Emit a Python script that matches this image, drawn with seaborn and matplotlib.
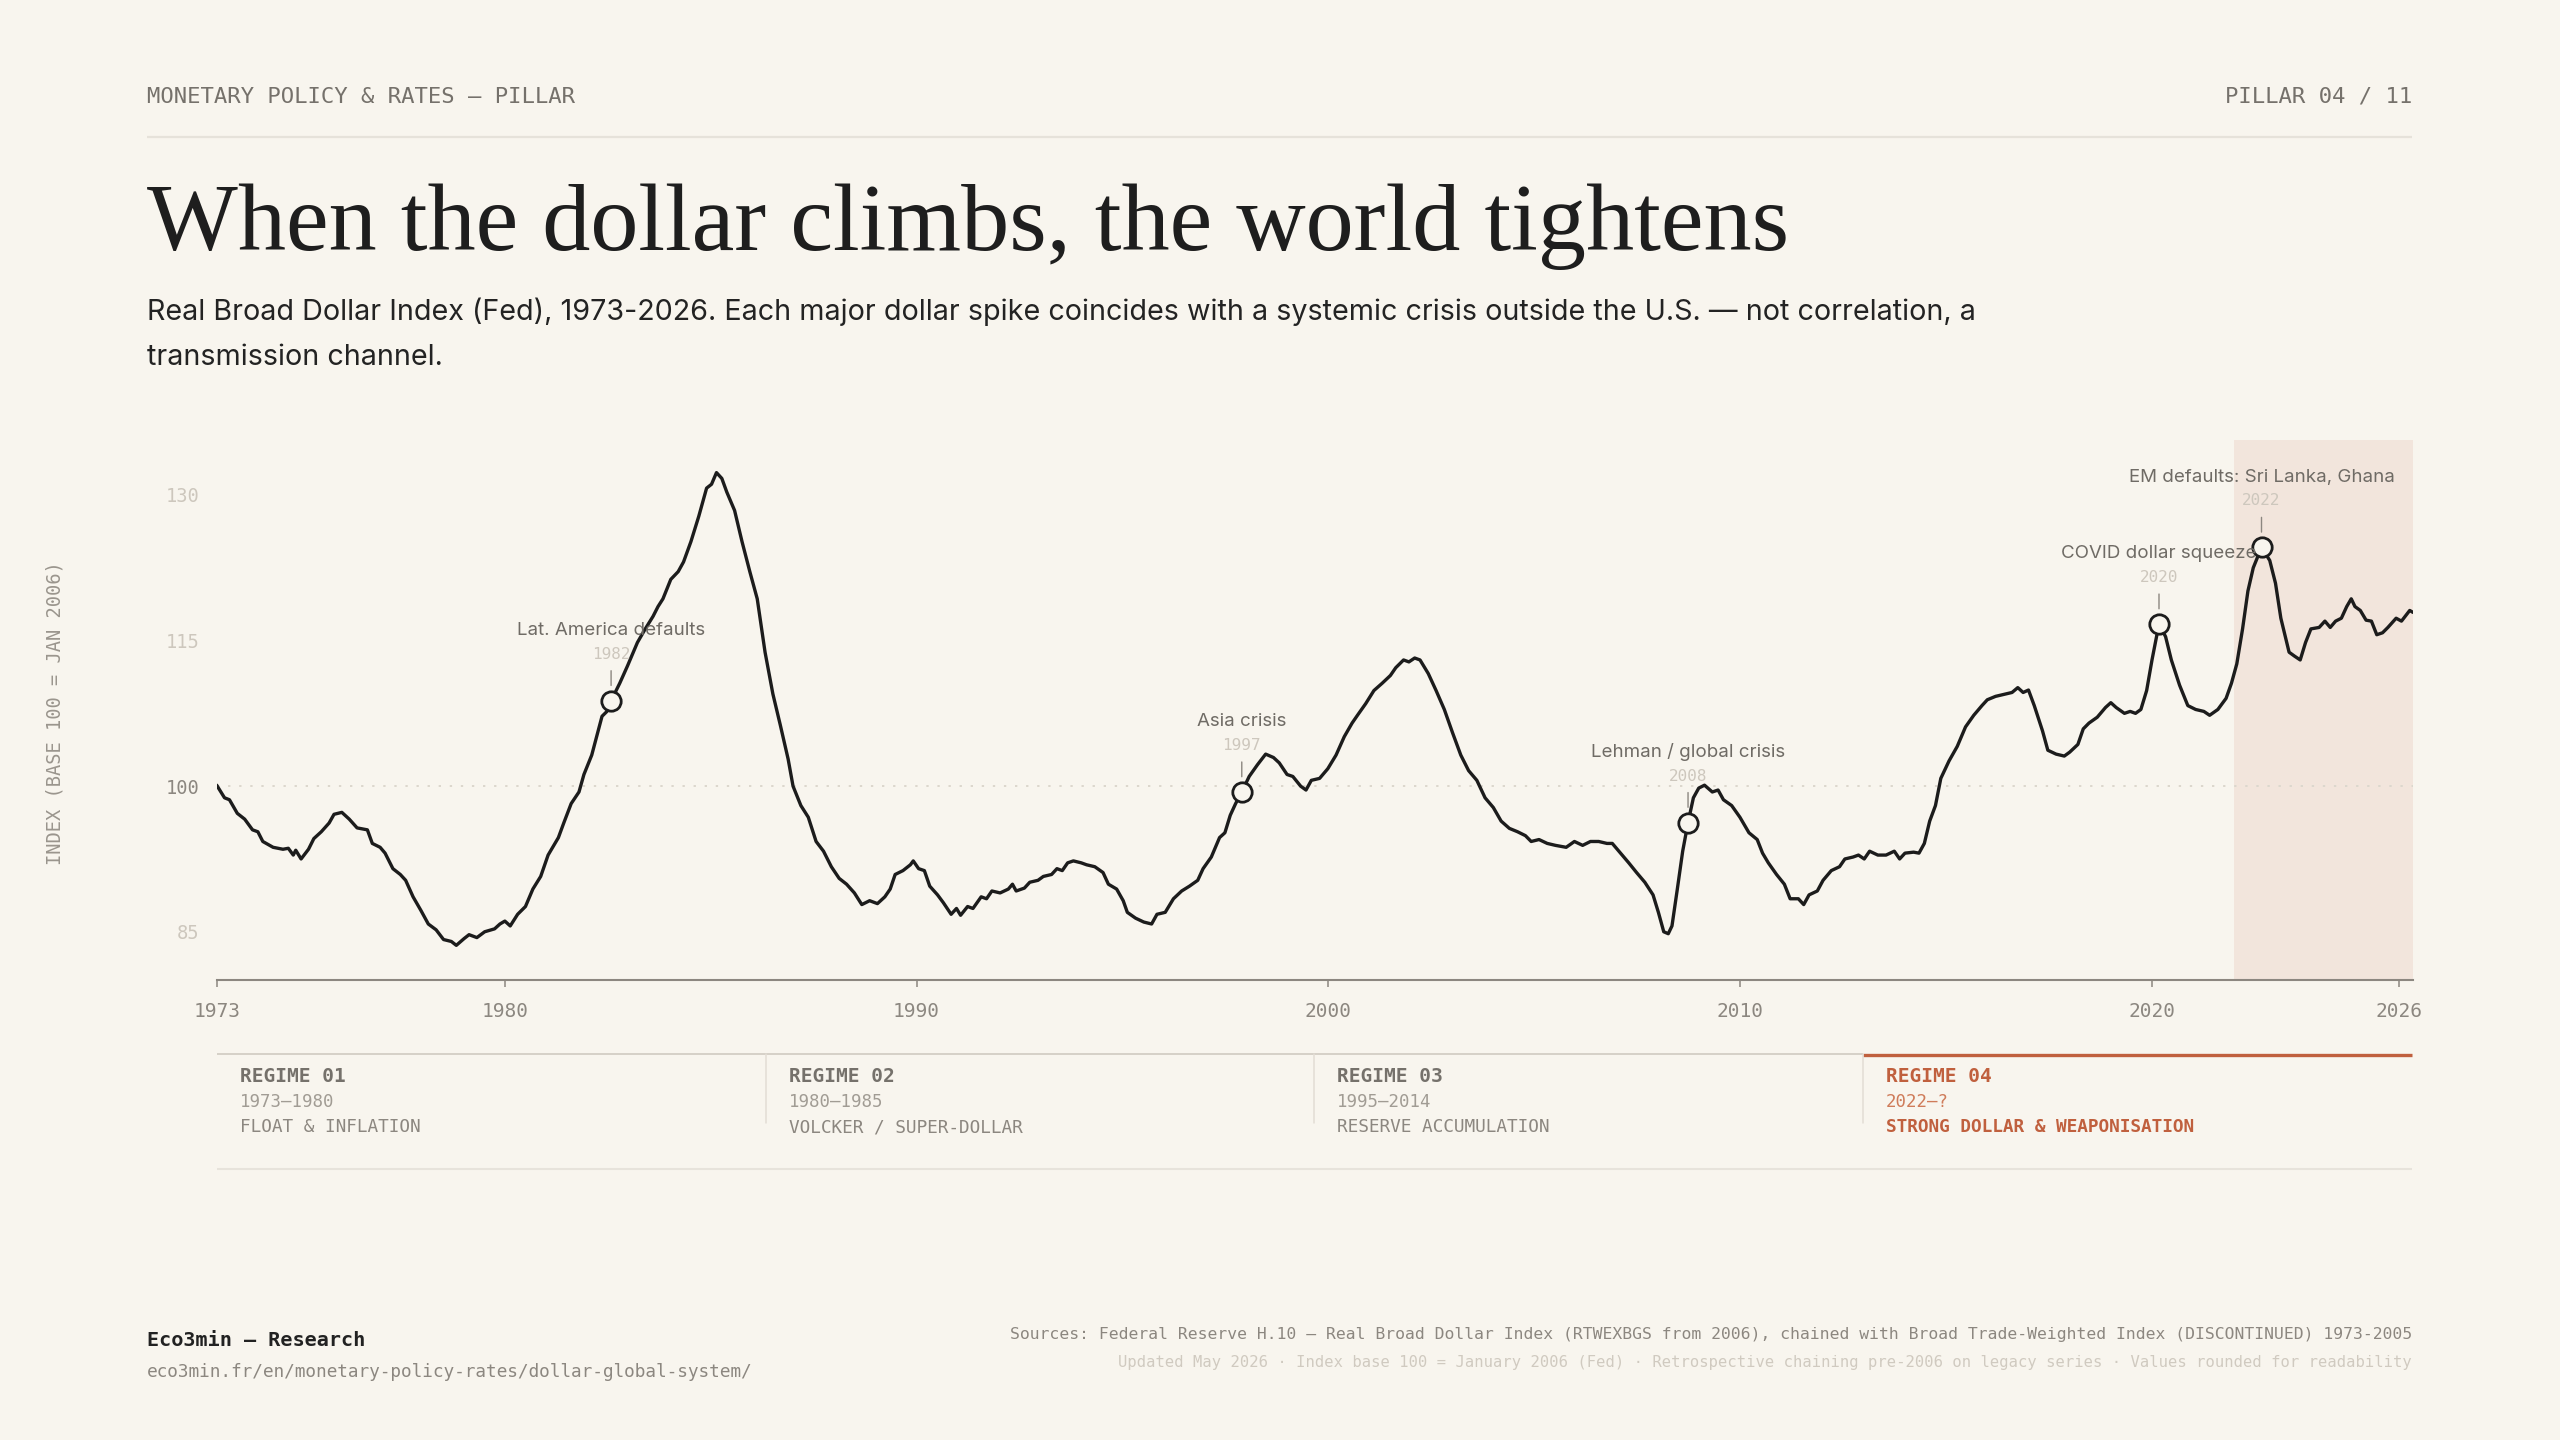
import matplotlib
matplotlib.use("Agg")
import matplotlib.pyplot as plt
import seaborn as sns
import pandas as pd

# ---------------- data ----------------
years = [1973.00, 1973.19, 1973.31, 1973.50, 1973.68, 1973.87, 1974.00, 1974.12, 1974.37, 1974.61,
         1974.74, 1974.86, 1974.92, 1975.05, 1975.23, 1975.36, 1975.54, 1975.73, 1975.85, 1976.04,
         1976.22, 1976.41, 1976.66, 1976.78, 1976.97, 1977.09, 1977.28, 1977.46, 1977.59, 1977.77,
         1977.96, 1978.14, 1978.33, 1978.51, 1978.70, 1978.82, 1979.01, 1979.13, 1979.32, 1979.51,
         1979.75, 1979.88, 1980.00, 1980.13, 1980.31, 1980.50, 1980.68, 1980.87, 1981.05, 1981.30,
         1981.43, 1981.61, 1981.80, 1981.92, 1982.11, 1982.23, 1982.36, 1982.48, 1982.58, 1982.79,
         1982.98, 1983.10, 1983.22, 1983.41, 1983.60, 1983.72, 1983.84, 1984.03, 1984.21, 1984.34,
         1984.52, 1984.71, 1984.90, 1985.02, 1985.14, 1985.27, 1985.39, 1985.58, 1985.76, 1985.95,
         1986.13, 1986.32, 1986.51, 1986.69, 1986.88, 1987.00, 1987.19, 1987.37, 1987.56, 1987.74,
         1987.93, 1988.12, 1988.30, 1988.49, 1988.67, 1988.86, 1989.05, 1989.23, 1989.36, 1989.48,
         1989.67, 1989.85, 1989.92, 1990.05, 1990.19, 1990.32, 1990.51, 1990.65, 1990.84, 1990.97,
         1991.07, 1991.24, 1991.37, 1991.57, 1991.70, 1991.83, 1992.03, 1992.23, 1992.33, 1992.42,
         1992.62, 1992.75, 1992.95, 1993.08, 1993.28, 1993.41, 1993.54, 1993.67, 1993.81, 1994.00,
         1994.13, 1994.33, 1994.53, 1994.66, 1994.86, 1995.02, 1995.12, 1995.32, 1995.52, 1995.71,
         1995.84, 1996.04, 1996.24, 1996.44, 1996.63, 1996.83, 1996.96, 1997.16, 1997.36, 1997.49,
         1997.62, 1997.75, 1997.90, 1998.08, 1998.28, 1998.48, 1998.67, 1998.81, 1999.00, 1999.14,
         1999.33, 1999.46, 1999.59, 1999.79, 1999.99, 2000.19, 2000.39, 2000.58, 2000.71, 2000.91,
         2001.11, 2001.31, 2001.51, 2001.64, 2001.83, 2001.96, 2002.10, 2002.23, 2002.43, 2002.62,
         2002.82, 2003.02, 2003.22, 2003.41, 2003.61, 2003.81, 2004.01, 2004.20, 2004.40, 2004.60,
         2004.79, 2004.93, 2005.12, 2005.32, 2005.52, 2005.78, 2005.98, 2006.18, 2006.37, 2006.57,
         2006.77, 2006.90, 2007.10, 2007.30, 2007.49, 2007.69, 2007.89, 2008.02, 2008.15, 2008.26,
         2008.35, 2008.48, 2008.61, 2008.74, 2008.87, 2009.00, 2009.14, 2009.33, 2009.47, 2009.60,
         2009.80, 2010.00, 2010.22, 2010.42, 2010.55, 2010.69, 2010.89, 2011.08, 2011.22, 2011.42,
         2011.55, 2011.68, 2011.88, 2012.02, 2012.22, 2012.42, 2012.55, 2012.75, 2012.88, 2013.02,
         2013.15, 2013.35, 2013.55, 2013.75, 2013.88, 2014.01, 2014.22, 2014.35, 2014.48, 2014.61,
         2014.75, 2014.88, 2015.08, 2015.28, 2015.48, 2015.68, 2015.88, 2016.01, 2016.21, 2016.41,
         2016.61, 2016.75, 2016.88, 2017.01, 2017.15, 2017.35, 2017.48, 2017.68, 2017.88, 2018.01,
         2018.21, 2018.34, 2018.48, 2018.68, 2018.88, 2019.01, 2019.14, 2019.34, 2019.48, 2019.61,
         2019.74, 2019.88, 2020.01, 2020.18, 2020.34, 2020.48, 2020.68, 2020.88, 2021.07, 2021.27,
         2021.41, 2021.61, 2021.81, 2021.94, 2022.07, 2022.21, 2022.34, 2022.47, 2022.67, 2022.87,
         2023.01, 2023.14, 2023.34, 2023.47, 2023.61, 2023.74, 2023.87, 2024.07, 2024.21, 2024.34,
         2024.47, 2024.61, 2024.74, 2024.85, 2024.94, 2025.07, 2025.21, 2025.34, 2025.47, 2025.61,
         2025.74, 2025.94, 2026.07, 2026.27, 2026.35]

index_values = [100.1, 98.8, 98.6, 97.2, 96.6, 95.5, 95.3, 94.3, 93.7, 93.5,
                93.6, 92.9, 93.4, 92.5, 93.5, 94.6, 95.3, 96.2, 97.1, 97.3,
                96.6, 95.7, 95.5, 94.1, 93.7, 93.1, 91.5, 90.9, 90.3, 88.6,
                87.2, 85.8, 85.2, 84.2, 84.0, 83.6, 84.3, 84.7, 84.4, 85.0,
                85.3, 85.8, 86.1, 85.6, 86.8, 87.6, 89.4, 90.7, 92.9, 94.7,
                96.2, 98.2, 99.4, 101.2, 103.2, 105.1, 107.2, 107.7, 108.8, 110.6,
                112.4, 113.6, 114.8, 116.2, 117.5, 118.5, 119.3, 121.3, 122.1, 123.1,
                125.2, 127.8, 130.7, 131.1, 132.3, 131.7, 130.3, 128.4, 125.2, 122.1,
                119.3, 113.8, 109.5, 106.3, 102.8, 100.0, 98.0, 96.8, 94.3, 93.3,
                91.7, 90.5, 89.9, 89.0, 87.8, 88.2, 87.9, 88.6, 89.4, 90.9,
                91.3, 91.9, 92.3, 91.5, 91.3, 89.7, 88.8, 88.0, 86.8, 87.4,
                86.7, 87.6, 87.4, 88.6, 88.4, 89.2, 89.0, 89.4, 89.9, 89.2,
                89.5, 90.1, 90.3, 90.7, 90.9, 91.5, 91.3, 92.1, 92.3, 92.1,
                91.9, 91.7, 91.1, 89.9, 89.4, 88.2, 87.0, 86.4, 86.0, 85.8,
                86.8, 87.0, 88.4, 89.2, 89.7, 90.3, 91.5, 92.7, 94.7, 95.2,
                97.0, 98.2, 99.4, 101.0, 102.2, 103.3, 102.95, 102.4, 101.2, 101.0,
                100.0, 99.6, 100.6, 100.8, 101.8, 103.2, 105.1, 106.5, 107.3, 108.5,
                109.85, 110.6, 111.4, 112.2, 113.0, 112.8, 113.2, 113.0, 111.6, 109.85,
                107.9, 105.5, 103.2, 101.6, 100.6, 98.8, 97.8, 96.4, 95.65, 95.3,
                94.9, 94.3, 94.5, 94.1, 93.9, 93.7, 94.3, 93.9, 94.3, 94.3,
                94.1, 94.1, 93.1, 92.1, 91.1, 90.1, 88.8, 87.0, 85.0, 84.8,
                85.6, 89.4, 93.3, 96.25, 98.8, 99.8, 100.1, 99.4, 99.6, 98.6,
                98.0, 96.8, 95.2, 94.5, 93.1, 92.1, 90.9, 89.9, 88.4, 88.4,
                87.8, 88.8, 89.2, 90.3, 91.3, 91.7, 92.5, 92.7, 92.9, 92.5,
                93.3, 92.9, 92.9, 93.3, 92.5, 93.1, 93.2, 93.1, 94.1, 96.4,
                98.0, 100.8, 102.6, 104.1, 106.1, 107.3, 108.3, 108.9, 109.25, 109.45,
                109.65, 110.15, 109.65, 109.9, 108.3, 105.7, 103.7, 103.3, 103.1, 103.5,
                104.3, 105.9, 106.5, 107.1, 108.1, 108.6, 108.1, 107.5, 107.7, 107.5,
                107.9, 109.85, 113.0, 116.7, 115.4, 113.0, 110.4, 108.3, 107.9, 107.7,
                107.3, 107.9, 109.05, 110.6, 112.6, 116.2, 120.1, 122.5, 124.6, 123.25,
                120.9, 117.3, 113.8, 113.4, 113.0, 114.8, 116.2, 116.35, 117.0, 116.35,
                117.0, 117.3, 118.5, 119.3, 118.5, 118.1, 117.1, 117.0, 115.6, 115.8,
                116.35, 117.3, 117.0, 118.1, 117.9]

event_years = [1982.58, 1997.90, 2008.74, 2020.18, 2022.67]
event_names = ["Lat. America defaults", "Asia crisis", "Lehman / global crisis",
               "COVID dollar squeeze", "EM defaults: Sri Lanka, Ghana"]
event_year_labels = ["1982", "1997", "2008", "2020", "2022"]

x_ticks = [1973, 1980, 1990, 2000, 2010, 2020, 2026]
y_ticks = [85, 100, 115, 130]
regime4_start = 2022

regime_codes = ["REGIME 01", "REGIME 02", "REGIME 03", "REGIME 04"]
regime_periods = ["1973–1980", "1980–1985", "1995–2014", "2022–?"]
regime_names = ["FLOAT & INFLATION", "VOLCKER / SUPER-DOLLAR",
                "RESERVE ACCUMULATION", "STRONG DOLLAR & WEAPONISATION"]

header_left = "MONETARY POLICY & RATES — PILLAR"
header_right = "PILLAR 04 / 11"
title = "When the dollar climbs, the world tightens"
subtitle_1 = ("Real Broad Dollar Index (Fed), 1973-2026. Each major dollar spike coincides with a "
              "systemic crisis outside the U.S. — not correlation, a")
subtitle_2 = "transmission channel."
y_label = "INDEX (BASE 100 = JAN 2006)"
footer_brand = "Eco3min — Research"
footer_url = "eco3min.fr/en/monetary-policy-rates/dollar-global-system/"
source_1 = ("Sources: Federal Reserve H.10 — Real Broad Dollar Index (RTWEXBGS from 2006), "
            "chained with Broad Trade-Weighted Index (DISCONTINUED) 1973-2005")
source_2 = ("Updated May 2026 · Index base 100 = January 2006 (Fed) · Retrospective chaining "
            "pre-2006 on legacy series · Values rounded for readability")

# ---------------- style ----------------
BG = "#f8f5ee"
INK = "#1c1c1c"
GREY = "#8c8780"
MID = "#75716b"
LIGHT = "#cdc7bd"
ORANGE = "#c0603e"
SHADE = "#f2e5dc"
MONO = ["DejaVu Sans Mono"]
SANS = ["Inter", "DejaVu Sans"]
SERIF = ["Liberation Serif", "DejaVu Serif"]

sns.set_theme(style="white")
plt.rcParams["font.family"] = SANS
plt.rcParams["axes.facecolor"] = "none"

W, H = 2560, 1440
fig = plt.figure(figsize=(W / 100, H / 100), dpi=100, facecolor=BG)

# overlay axes in pixel coordinates for page decoration
ov = fig.add_axes([0, 0, 1, 1])
ov.set_xlim(0, W)
ov.set_ylim(H, 0)
ov.axis("off")

# main chart axes
L, R, T, B = 216.7, 2413.0, 439.6, 980.3
ax = fig.add_axes([L / W, 1 - B / H, (R - L) / W, (B - T) / H])
ax.set_facecolor("none")

df = pd.DataFrame({"year": years, "index": index_values})
ax.axvspan(regime4_start, years[-1], color=SHADE, lw=0, zorder=0)
ax.axhline(100, color="#dcd7cd", lw=1.4, ls=(0, (1.2, 4.5)), zorder=1)
sns.lineplot(data=df, x="year", y="index", ax=ax, color=INK, lw=2.4, zorder=3)

ev_vals = [index_values[years.index(y)] for y in event_years]
ev = pd.DataFrame({"year": event_years, "index": ev_vals})
sns.scatterplot(data=ev, x="year", y="index", ax=ax, s=195, facecolor=BG,
                edgecolor=INK, linewidth=2.0, zorder=4, legend=False)

for x, yv, name, yl in zip(event_years, ev_vals, event_names, event_year_labels):
    ax.annotate(name, xy=(x, yv), xytext=(0, 50.5), textcoords="offset points",
                ha="center", va="center", fontsize=13.5, color="#6f6b65",
                family=SANS, zorder=5)
    ax.annotate(yl, xy=(x, yv), xytext=(0, 33.5), textcoords="offset points",
                ha="center", va="center", fontsize=11.5, color=LIGHT,
                family=MONO, zorder=5)
    ax.annotate("", xy=(x, yv), xytext=(0, 21.6), textcoords="offset points",
                arrowprops=dict(arrowstyle="-", color="#8c8780", lw=1.0,
                                shrinkA=0, shrinkB=11.0), zorder=5)

ax.set_xlim(1973, years[-1])
ax.set_ylim(80, 135.7)
ax.set_xticks(x_ticks)
ax.set_xticklabels([str(t) for t in x_ticks])
ax.set_yticks(y_ticks)
ax.set_yticklabels([str(t) for t in y_ticks])
ax.set_xlabel("")
ax.set_ylabel("")
for s in ["top", "right", "left"]:
    ax.spines[s].set_visible(False)
ax.spines["bottom"].set_color(GREY)
ax.spines["bottom"].set_linewidth(1.5)
ax.tick_params(axis="x", bottom=True, length=4.8, width=1.1, color=GREY, pad=10.5,
               labelsize=14, labelcolor=GREY)
ax.tick_params(axis="y", left=False, length=0, pad=12.5, labelsize=13.5)
for lab in ax.get_xticklabels():
    lab.set_family(MONO)
for lab, t in zip(ax.get_yticklabels(), y_ticks):
    lab.set_family(MONO)
    lab.set_color(GREY if t == 100 else LIGHT)
ax.grid(False)

# ---------------- page text ----------------
ov.text(147, 97, header_left, ha="left", va="center", family=MONO, fontsize=16,
        color=MID)
ov.text(2412, 97, header_right, ha="right", va="center", family=MONO, fontsize=16,
        color=MID)
ov.plot([147, 2412], [136.7, 136.7], color="#e6e2da", lw=1.6, solid_capstyle="butt")

renderer = fig.canvas.get_renderer()


def fit(t, target):
    w = t.get_window_extent(renderer).width
    t.set_fontsize(t.get_fontsize() * target / w)


tt = ov.text(147, 250, title, ha="left", va="baseline", family=SERIF, fontsize=70,
             color="#1e1e1e")
fit(tt, 1643)
s1 = ov.text(147, 320, subtitle_1, ha="left", va="baseline", family=SANS, fontsize=20,
             color="#232323")
fit(s1, 1827)
ov.text(147, 365, subtitle_2, ha="left", va="baseline", family=SANS,
        fontsize=s1.get_fontsize(), color="#232323")

ov.text(55, 713, y_label, ha="center", va="center", rotation=90, family=MONO,
        fontsize=13.5, color="#9a958d")

# regime strip
col_w = (2412 - 216.7) / 4
ov.plot([216.7, 216.7 + 3 * col_w], [1053.5, 1053.5], color="#d3cec5", lw=1.3,
        solid_capstyle="butt")
ov.plot([216.7 + 3 * col_w, 2412], [1055, 1055], color=ORANGE, lw=2.4,
        solid_capstyle="butt")
ov.plot([216.7, 2412], [1169.3, 1169.3], color="#e7e3db", lw=1.5, solid_capstyle="butt")
for i in range(1, 4):
    xs = 216.7 + i * col_w
    ov.plot([xs, xs], [1054, 1122.7], color="#e2ddd4", lw=1.1)
for i, (code, per, nm) in enumerate(zip(regime_codes, regime_periods, regime_names)):
    x0 = 216.7 + i * col_w + 23
    hot = i == 3
    ov.text(x0, 1076, code, ha="left", va="center", family=MONO, fontsize=14,
            fontweight="bold", color=ORANGE if hot else MID)
    ov.text(x0, 1102, per, ha="left", va="center", family=MONO, fontsize=12.5,
            color="#cf7c5a" if hot else "#a19c94")
    ov.text(x0, 1127, nm, ha="left", va="center", family=MONO, fontsize=12.8,
            fontweight="bold" if hot else "normal", color=ORANGE if hot else GREY)

# footer
ov.text(147, 1341, footer_brand, ha="left", va="center", family=MONO, fontsize=14.5,
        fontweight="bold", color="#222222")
ov.text(147, 1372, footer_url, ha="left", va="center", family=MONO, fontsize=12.8,
        color=GREY)
ov.text(2412, 1335, source_1, ha="right", va="center", family=MONO, fontsize=11.8,
        color=GREY)
ov.text(2412, 1362, source_2, ha="right", va="center", family=MONO, fontsize=11.2,
        color="#d0cac0")

fig.savefig("out.png", dpi=100, facecolor=BG)
